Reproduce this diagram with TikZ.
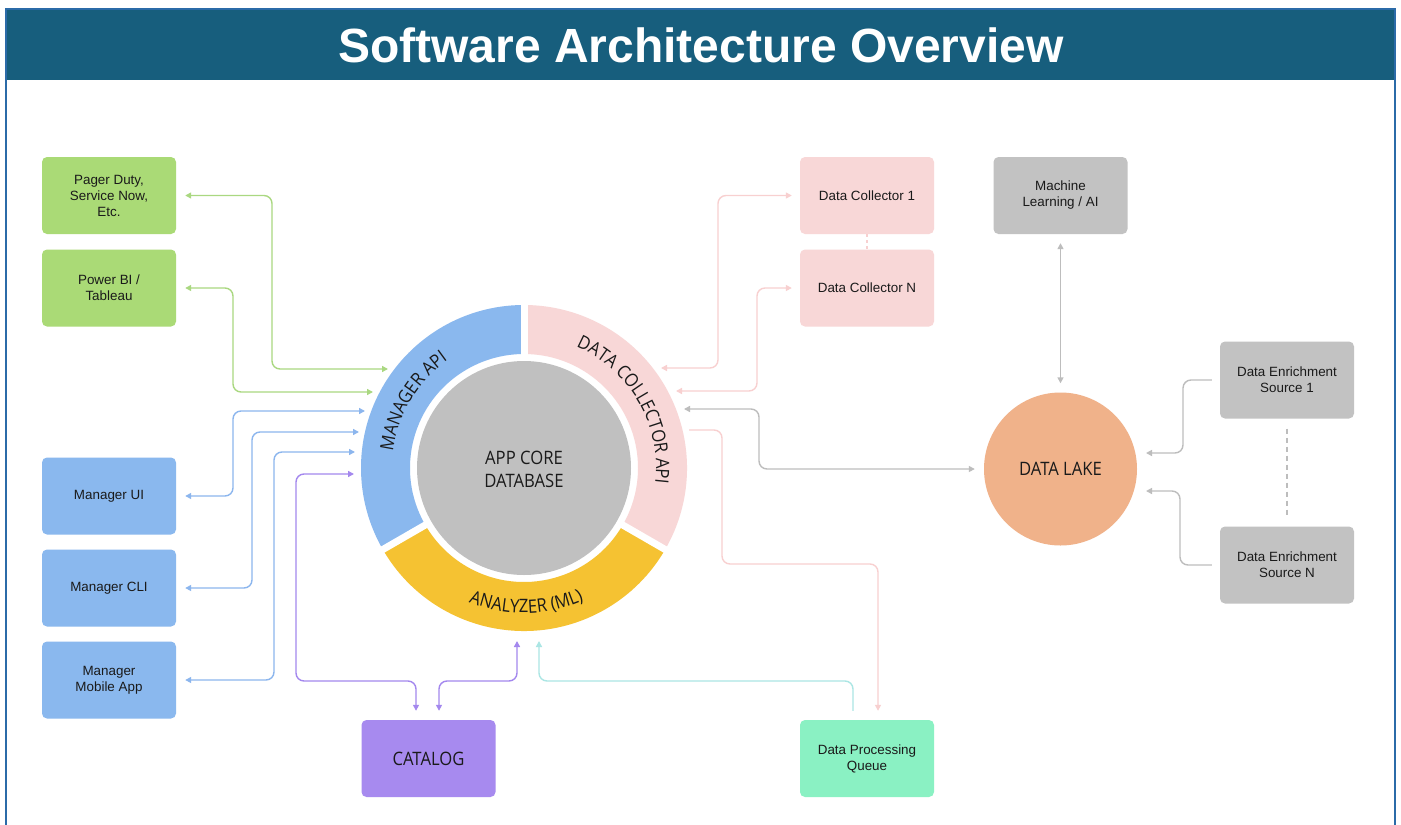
\documentclass[tikz,border=0pt]{standalone}
\usepackage{fontspec}
\setmainfont{Liberation Sans}
\newfontfamily\osans{Open Sans}[FakeStretch=0.9]
\usetikzlibrary{arrows.meta,decorations.text,calc}
\definecolor{titlebar}{HTML}{175E7D}
\definecolor{frame}{HTML}{2B6BA8}
\definecolor{cgreen}{HTML}{AADA76}
\definecolor{cblue}{HTML}{8AB8EE}
\definecolor{cpurple}{HTML}{A78AEF}
\definecolor{cmint}{HTML}{8AF1C3}
\definecolor{cpink}{HTML}{F8D7D7}
\definecolor{cgray}{HTML}{C2C2C2}
\definecolor{clake}{HTML}{F0B28A}
\definecolor{cyellow}{HTML}{F5C232}
\definecolor{ccore}{HTML}{C0C0C0}
\definecolor{gline}{HTML}{AAD881}
\definecolor{bline}{HTML}{8CB6EE}
\definecolor{pline}{HTML}{A488EE}
\definecolor{tline}{HTML}{ABE6E4}
\definecolor{kline}{HTML}{F8D0D0}
\definecolor{yline}{HTML}{BDBDBD}
\definecolor{ink}{HTML}{1A1A1A}
\newcommand{\boxfont}{\fontsize{13.4}{16}\selectfont}
\newcommand{\ringfont}{\osans\fontsize{18.5}{23}\selectfont}
\begin{document}
\begin{tikzpicture}[x=1pt,y=-1pt,
  box/.style={rectangle, rounded corners=5pt, minimum width=134pt, minimum height=77pt,
    inner sep=2pt, align=center, font=\boxfont, text=ink},
  conn/.style={line width=1.4pt, rounded corners=8pt, >={Triangle[length=6pt,width=6pt]}},
  ringtext/.style={decorate, decoration={text along path, text align=center, text color=ink,
    text={|\ringfont|#1}}}]
\useasboundingbox (0,0) rectangle (1401,825);
\fill[white] (0,0) rectangle (1401,825);
\fill[titlebar] (6,9) rectangle (1395,80);
\draw[frame, line width=2pt] (6,826) -- (6,9) -- (1395,9) -- (1395,826);
\node[font=\bfseries\fontsize{48}{50}\selectfont, text=white] (title) at (701,45) {Software Architecture Overview};

% boxes
\node[box, fill=cgreen] (pager) at (109,195.5) {Pager Duty,\\Service Now,\\Etc.};
\node[box, fill=cgreen] (pbi) at (109,288) {Power BI /\\Tableau};
\node[box, fill=cblue] (mui) at (109,496) {Manager UI};
\node[box, fill=cblue] (mcli) at (109,588) {Manager CLI};
\node[box, fill=cblue] (mmob) at (109,680) {Manager\\Mobile App};
\node[box, fill=cpurple, font=\ringfont] (cat) at (428.5,758.5) {CATALOG};
\node[box, fill=cmint] (dpq) at (867,758.5) {Data Processing\\Queue};
\node[box, fill=cpink] (dc1) at (867,195.5) {Data Collector 1};
\node[box, fill=cpink] (dcn) at (867,288) {Data Collector N};
\node[box, fill=cgray] (ml) at (1060.5,195.5) {Machine\\Learning / AI};
\node[box, fill=cgray] (des1) at (1287,380) {Data Enrichment\\Source 1};
\node[box, fill=cgray] (desn) at (1287,565) {Data Enrichment\\Source N};
\node[circle, fill=clake, minimum size=153pt, inner sep=0pt, font=\ringfont, text=ink] (lake) at (1060.5,469) {DATA LAKE};

% ring
\begin{scope}[shift={(524,468)}, x=1pt, y=1pt]
  \fill[cblue] (90:114) -- (90:163) arc[start angle=90, end angle=210, radius=163]
    -- (210:114) arc[start angle=210, end angle=90, radius=114] -- cycle;
  \fill[cyellow] (210:114) -- (210:163) arc[start angle=210, end angle=330, radius=163]
    -- (330:114) arc[start angle=330, end angle=210, radius=114] -- cycle;
  \fill[cpink] (330:114) -- (330:163) arc[start angle=330, end angle=450, radius=163]
    -- (450:114) arc[start angle=450, end angle=330, radius=114] -- cycle;
  \foreach \a in {90,210,330} \draw[white, line width=7pt] (\a:110) -- (\a:168);
  \fill[ccore] (0,0) circle[radius=107];
  \node[font=\ringfont, text=ink, align=center] (core) at (0,-1.5) {APP CORE\\DATABASE};
  \path[ringtext={MANAGER API}] (199:132) arc[start angle=199, end angle=99, radius=132];
  \path[ringtext={DATA COLLECTOR API}] (80:132) arc[start angle=80, end angle=-20, radius=132];
  \path[ringtext={ANALYZER (ML)}] (221:145) arc[start angle=221, end angle=321, radius=145];
\end{scope}

% ring end points
\coordinate (mA) at (388,369);
\coordinate (mB) at (373,392);
\coordinate (mC) at (365,411);
\coordinate (mD) at (359,432);
\coordinate (mE) at (355,452);
\coordinate (mF) at (354,474);
\coordinate (aP) at (517,641);
\coordinate (aT) at (539,641);
\coordinate (dA) at (661,368);
\coordinate (dB) at (676,391);
\coordinate (dG) at (684,409);
\coordinate (dS) at (689,430);
\coordinate (lA) at (1146,453);
\coordinate (lB) at (1146,491);

% connectors
\draw[conn, gline, <->] ([xshift=9pt]pager.east) -| (272,369) -- (mA);
\draw[conn, gline, <->] ([xshift=9pt]pbi.east) -| (233,392) -- (mB);
\draw[conn, bline, <->] ([xshift=9pt]mui.east) -| (233,411) -- (mC);
\draw[conn, bline, <->] ([xshift=9pt]mcli.east) -| (252,432) -- (mD);
\draw[conn, bline, <->] ([xshift=9pt]mmob.east) -| (274,452) -- (mE);
\draw[conn, pline, <->] (mF) -| (296,681) -| ([xshift=-12.5pt,yshift=9pt]cat.north);
\draw[conn, pline, <->] ([xshift=10.5pt,yshift=9pt]cat.north) |- (517,681) -- (aP);
\draw[conn, tline, ->] ([xshift=-14pt,yshift=9pt]dpq.north) |- (539,681) -- (aT);
\draw[conn, kline, <->] ([xshift=-8pt]dc1.west) -| (718,368) -- (dA);
\draw[conn, kline, <->] ([xshift=-8pt]dcn.west) -| (757,391) -- (dB);
\draw[conn, kline, ->] (dS) -| (722,564) -| ([xshift=11pt,yshift=9pt]dpq.north);
\draw[conn, yline, <->] (dG) -| (759,469) -- ([xshift=-9pt]lake.west);
\draw[conn, yline, <->] ([yshift=-9pt]ml.south) -- ([yshift=9pt]lake.north);
\draw[conn, yline, ->] ([xshift=-8pt]des1.west) -| (1183,453) -- (lA);
\draw[conn, yline, ->] ([xshift=-8pt]desn.west) -| (1180,491) -- (lB);
\draw[kline, line width=1.2pt, dash pattern=on 3pt off 3pt] (dc1.south) -- (dcn.north);
\draw[yline, line width=1.4pt, dash pattern=on 5pt off 4pt] ([yshift=-10pt]des1.south) -- ([yshift=9pt]desn.north);
\end{tikzpicture}
\end{document}
